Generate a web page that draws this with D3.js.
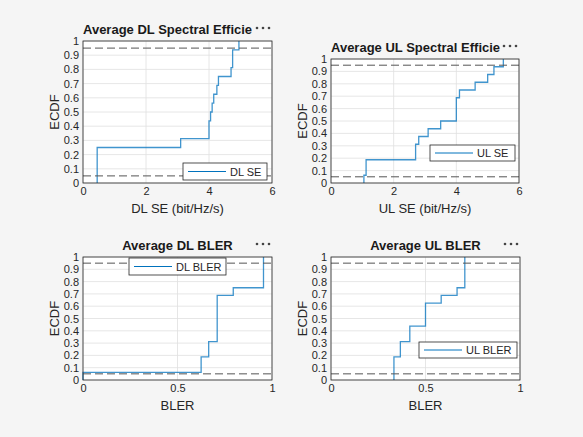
<!DOCTYPE html>
<html><head><meta charset="utf-8">
<script src="https://cdn.jsdelivr.net/npm/d3@7"></script>
<style>body{margin:0;background:#f5f5f5;font-family:"Liberation Sans",Arial,sans-serif}</style>
</head><body><svg id="fig" width="583" height="437"></svg>
<script>
// ECDF step data (x = sample value, y = cumulative fraction after the step)
const dlSeX = [0.45, 3.1, 4.0, 4.05, 4.1, 4.15, 4.25, 4.3, 4.7, 4.75, 4.95];
const dlSeY = [0.25, 0.3125, 0.4375, 0.5, 0.5625, 0.625, 0.6875, 0.75, 0.8125, 0.9375, 1];
const ulSeX = [1.05, 1.12, 2.7, 2.8, 3.1, 3.5, 4.0, 4.1, 4.6, 5.0, 5.2, 5.5];
const ulSeY = [0.0625, 0.1875, 0.3125, 0.375, 0.4375, 0.5, 0.6875, 0.75, 0.8125, 0.875, 0.9375, 1];
const dlBlerX = [0.0, 0.625, 0.665, 0.71, 0.795, 0.955];
const dlBlerY = [0.0625, 0.1875, 0.3125, 0.6875, 0.75, 1];
const ulBlerX = [0.333, 0.367, 0.417, 0.5, 0.583, 0.667, 0.708];
const ulBlerY = [0.1875, 0.3125, 0.4375, 0.625, 0.6875, 0.75, 1];
const seTicks = [0, 2, 4, 6];
const blerTicks = [0, 0.5, 1];
const yTicks = d3.range(0, 11).map(i => i / 10);

// titles as shown (the spectral efficiency ones are cut off by the axes toolbar)
const panels = [
  {title: "Average DL Spectral Efficie", xlab: "DL SE (bit/Hz/s)", leg: "DL SE", xs: dlSeX, ys: dlSeY,
   dom: [0, 6], ticks: seTicks, box: [83, 41, 272, 183], legBox: [183, 163, 84, 17], titleY: 34, left: true},
  {title: "Average UL Spectral Efficie", xlab: "UL SE (bit/Hz/s)", leg: "UL SE", xs: ulSeX, ys: ulSeY,
   dom: [0, 6], ticks: seTicks, box: [331, 59, 519, 183], legBox: [430, 145, 85, 16], titleY: 52, left: true},
  {title: "Average DL BLER", xlab: "BLER", leg: "DL BLER", xs: dlBlerX, ys: dlBlerY,
   dom: [0, 1], ticks: blerTicks, box: [83, 257, 272, 380], legBox: [129, 258, 97, 17], titleY: 250},
  {title: "Average UL BLER", xlab: "BLER", leg: "UL BLER", xs: ulBlerX, ys: ulBlerY,
   dom: [0, 1], ticks: blerTicks, box: [331, 257, 520, 380], legBox: [419, 342, 98, 16], titleY: 250}
];

const svg = d3.select("#fig");
const txt = "#262626";

panels.forEach(p => {
  const [x0, y0, x1, y1] = p.box;
  const x = d3.scaleLinear().domain(p.dom).range([x0, x1]);
  const y = d3.scaleLinear().domain([0, 1]).range([y1, y0]);
  const g = svg.append("g");

  g.append("rect").attr("x", x0).attr("y", y0).attr("width", x1 - x0).attr("height", y1 - y0).attr("fill", "white");

  // grid
  g.selectAll(".gx").data(p.ticks).join("line")
    .attr("x1", d => x(d)).attr("x2", d => x(d)).attr("y1", y0).attr("y2", y1)
    .attr("stroke", "#dfdfdf").attr("stroke-width", 0.8);
  g.selectAll(".gy").data(yTicks).join("line")
    .attr("y1", d => y(d)).attr("y2", d => y(d)).attr("x1", x0).attr("x2", x1)
    .attr("stroke", "#dfdfdf").attr("stroke-width", 0.8);

  // ECDF stairs
  const pts = [[p.xs[0], 0]].concat(p.xs.map((v, i) => [v, p.ys[i]]));
  const line = d3.line().x(d => x(d[0])).y(d => y(d[1])).curve(d3.curveStepAfter);
  g.append("path").attr("d", line(pts)).attr("fill", "none")
    .attr("stroke", "#0072bd").attr("stroke-width", 1.3).attr("stroke-opacity", 0.75);

  // 5% / 95% reference lines
  [0.05, 0.95].forEach(v => g.append("line")
    .attr("x1", x0).attr("x2", x1).attr("y1", y(v)).attr("y2", y(v))
    .attr("stroke", "#555").attr("stroke-width", 1).attr("stroke-dasharray", "8,4"));

  // axes box
  g.append("rect").attr("x", x0).attr("y", y0).attr("width", x1 - x0).attr("height", y1 - y0)
    .attr("fill", "none").attr("stroke", "#262626").attr("stroke-width", 0.8);

  const xa = g.append("g").attr("transform", `translate(0,${y1})`)
    .call(d3.axisBottom(x).tickValues(p.ticks).tickSize(0).tickPadding(4).tickFormat(d3.format("")));
  const ya = g.append("g").attr("transform", `translate(${x0},0)`)
    .call(d3.axisLeft(y).tickValues(yTicks).tickSize(0).tickPadding(4).tickFormat(d3.format("")));
  [xa, ya].forEach(a => {
    a.select(".domain").remove();
    a.selectAll("text").attr("fill", txt).style("font-size", "11px").style("font-family", '"Liberation Sans", Arial, sans-serif');
  });

  g.append("text").attr("x", (x0 + x1) / 2).attr("y", y1 + 30).attr("text-anchor", "middle")
    .attr("fill", txt).style("font-size", "13px").text(p.xlab);
  g.append("text").attr("transform", `translate(${x0 - 24},${(y0 + y1) / 2}) rotate(-90)`)
    .attr("text-anchor", "middle").attr("fill", txt).style("font-size", "13px").text("ECDF");

  const t = g.append("text").attr("y", p.titleY).attr("fill", "#1a1a1a")
    .style("font-size", "13px").style("font-weight", "bold").text(p.title);
  if (p.left) t.attr("x", x0);
  else t.attr("x", (x0 + x1) / 2).attr("text-anchor", "middle");

  // toolbar dots
  g.selectAll(".dot").data([-15, -9, -3]).join("circle")
    .attr("cx", d => x1 + d).attr("cy", p.titleY - 6).attr("r", 1.3).attr("fill", "#444");

  // legend
  const [lx, ly, lw, lh] = p.legBox;
  g.append("rect").attr("x", lx).attr("y", ly).attr("width", lw).attr("height", lh)
    .attr("fill", "white").attr("stroke", "#262626").attr("stroke-width", 0.8);
  g.append("line").attr("x1", lx + 5).attr("x2", lx + 43).attr("y1", ly + lh / 2).attr("y2", ly + lh / 2)
    .attr("stroke", "#0072bd").attr("stroke-width", 1);
  g.append("text").attr("x", lx + 47).attr("y", ly + lh / 2 + 4).attr("fill", txt)
    .style("font-size", "11px").text(p.leg);
});
</script></body></html>
